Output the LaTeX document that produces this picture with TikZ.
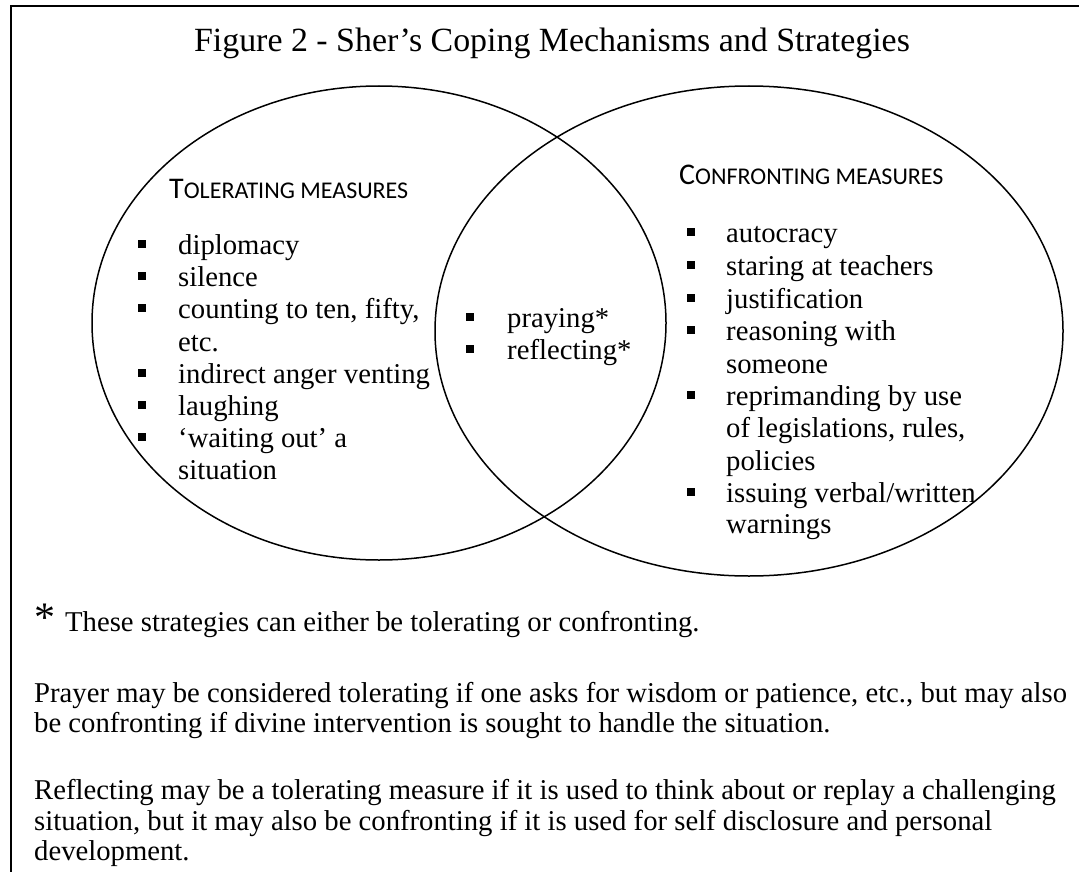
\documentclass[tikz,border=0pt]{standalone}
\usepackage{fontspec}
\setmainfont{Liberation Serif}
\newfontfamily\hdfont{Carlito}
\newcommand\fsc[2]{{\hdfont\fontsize{30}{32}\selectfont#1\fontsize{24}{32}\selectfont#2}}
\begin{document}
\begin{tikzpicture}[x=1pt,y=-1pt,
  txt/.style={anchor=base west,inner sep=0pt,font=\fontsize{28.7}{32.3}\selectfont},
  ttl/.style={anchor=base,inner sep=0pt,font=\fontsize{33.9}{38}\selectfont},
  hd/.style={anchor=base west,inner sep=0pt},
  bul/.style={fill=black,minimum size=8pt,inner sep=0pt},
  venn/.style={line width=1.5pt},
  frame/.style={line width=2pt}]
\useasboundingbox (0,0) rectangle (1079,872);
% frame
\coordinate (fbl) at (10.5,872);
\coordinate (ftl) at (10.5,6);
\coordinate (ftr) at (1079,6);
\draw[frame] (fbl) -- (ftl) -- (ftr);
% title
\node[ttl] (title) at (552,52) {Figure 2 - Sher’s Coping Mechanisms and Strategies};
% venn circles
\draw[venn] (379,323) ellipse [x radius=287, y radius=237];
\draw[venn] (749,331) ellipse [x radius=314, y radius=245];
% headers
\node[hd] (hl) at (169,198) {\fsc{T}{OLERATING MEASURES}};
\node[hd] (hr) at (679,184) {\fsc{C}{ONFRONTING MEASURES}};
% left list
\node[txt] (l1) at (178,254) {diplomacy};
\node[txt] (l2) at (178,286) {silence};
\node[txt] (l3) at (178,318) {counting to ten, fifty,};
\node[txt] (l3b) at (178,351) {etc.};
\node[txt] (l4) at (178,383) {indirect anger venting};
\node[txt] (l5) at (178,415) {laughing};
\node[txt] (l6) at (178,447) {‘waiting out’ a};
\node[txt] (l6b) at (178,479) {situation};
\foreach \n/\y in {1/254,2/286,3/318,4/383,5/415,6/447}
  \node[bul] (lb\n) at (141.5,\y-10) {};
% middle list
\node[txt] (m1) at (507,327) {praying*};
\node[txt] (m2) at (507,359) {reflecting*};
\foreach \n/\y in {1/327,2/359}
  \node[bul] (mb\n) at (470,\y-10) {};
% right list
\node[txt] (r1) at (726,242) {autocracy};
\node[txt] (r2) at (726,275) {staring at teachers};
\node[txt] (r3) at (726,308) {justification};
\node[txt] (r4) at (726,340) {reasoning with};
\node[txt] (r4b) at (726,373) {someone};
\node[txt] (r5) at (726,405) {reprimanding by use};
\node[txt] (r5b) at (726,437) {of legislations, rules,};
\node[txt] (r5c) at (726,470) {policies};
\node[txt] (r6) at (726,502) {issuing verbal/written};
\node[txt] (r6b) at (726,533) {warnings};
\foreach \n/\y in {1/242,2/275,3/308,4/340,5/405,6/502}
  \node[bul] (rb\n) at (691,\y-10) {};
% footnotes
\node[hd,font=\fontsize{42}{42}\selectfont] (ast) at (34,631) {*};
\node[txt] (f1) at (65,631) {These strategies can either be tolerating or confronting.};
\node[txt] (f2) at (34,702) {Prayer may be considered tolerating if one asks for wisdom or patience, etc., but may also};
\node[txt] (f2b) at (34,732) {be confronting if divine intervention is sought to handle the situation.};
\node[txt] (f3) at (34,799) {Reflecting may be a tolerating measure if it is used to think about or replay a challenging};
\node[txt] (f3b) at (34,830) {situation, but it may also be confronting if it is used for self disclosure and personal};
\node[txt] (f3c) at (34,860) {development.};
\end{tikzpicture}
\end{document}
